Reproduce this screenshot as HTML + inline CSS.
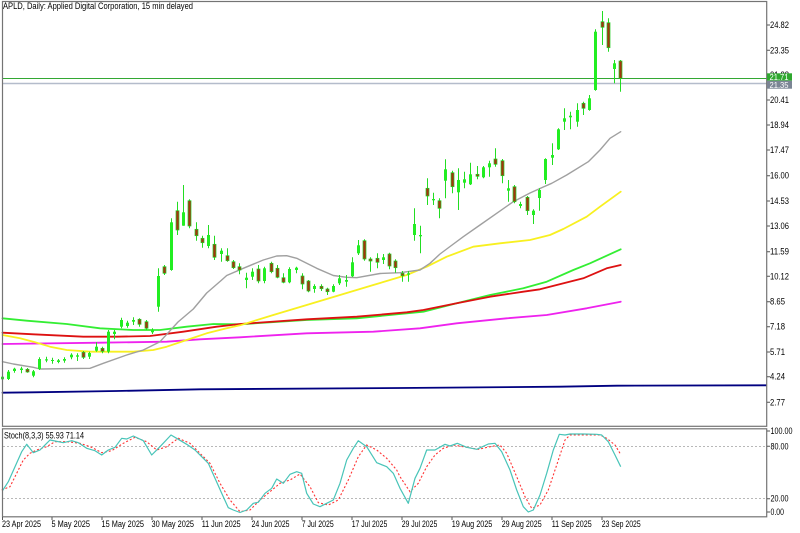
<!DOCTYPE html>
<html><head><meta charset="utf-8"><style>
html,body{margin:0;padding:0;background:#fff;}
svg{display:block;}
text{font-family:"Liberation Sans",sans-serif;fill:#000;}
</style></head><body>
<svg width="800" height="533" viewBox="0 0 800 533" xmlns="http://www.w3.org/2000/svg">
<rect x="0" y="0" width="800" height="533" fill="#fff"/>

<!-- title -->
<text x="3" y="9" font-size="9" textLength="190" lengthAdjust="spacingAndGlyphs">APLD, Daily:  Applied Digital Corporation, 15 min delayed</text>

<!-- moving averages -->
<g fill="none" stroke-linejoin="round" stroke-linecap="round">
<polyline stroke="#000080" stroke-width="1.8" points="2.5,392.7 33.3,392.3 116.7,391 200,389.3 400,388 560,386.7 617,385.7 766,385.3"/>
<polyline stroke="#ee22ee" stroke-width="1.8" points="2.5,344 100,342.7 166.7,341.7 200,339.3 240,337.3 306.7,333.3 373.3,331.7 420,328.3 456.7,323.3 506.7,318.3 546.7,315 586.7,308.3 620.7,301.7"/>
<polyline stroke="#33ee33" stroke-width="1.8" points="2.5,318.3 26.7,320.7 66.7,324 100,328.3 133.3,330 160,330 186.7,326.7 213.3,324 240,324.3 306.7,320 356.7,318.3 390,315 423.3,311.7 456.7,303.3 490,295 523.3,288.3 546.7,281.7 573.3,270 590,263.3 620.7,249.3"/>
<polyline stroke="#dd1111" stroke-width="1.8" points="2.5,332.7 33.3,334.3 83.3,336.7 116.7,336.7 150,336 183.3,331.7 216.7,326.7 240,324 306.7,319.3 356.7,316.7 406.7,312.3 423.3,310 456.7,303.3 490,296.7 523.3,291.7 540,289.3 556.7,285 583.3,278.3 606.7,268.3 620.7,265"/>
<polyline stroke="#f8f020" stroke-width="1.8" points="2.5,335 20,338.3 33.3,341.7 50,346.7 66.7,350 90,351.7 133.3,351.7 153.3,350 166.7,346.7 186.7,340 206.7,333.3 226.7,328.3 240,325.3 273.3,315 306.7,305 340,295 373.3,285 406.7,275 426.7,266.7 446.7,256.7 473.3,246.7 500,243.3 530,240 550,235 563.3,229 586.7,216.7 600,206.7 620.7,191.7"/>
<polyline stroke="#a0a0a0" stroke-width="1.4" points="2.5,361.7 13.3,364 33.3,367.3 40,369 90,368.3 103.3,363.3 126.7,355 143.3,350 160,341.7 178,322 193.3,309 206.7,293 221.7,280 226.7,275.5 243.3,268.3 263.3,260 276.7,256 286.7,255.7 296.7,258.3 306.7,263.3 316.7,268.3 333.3,275.5 346.7,277.3 356.7,277.7 380,273.5 400,272.7 420,270 430,263.3 440,254 446.7,249 463.3,236.7 480,225 496.7,213.3 513.3,201.7 530,193 543.3,187 551.7,183.3 566.7,175 588.3,161.7 600,150 610,138.3 620.7,131.7"/>
</g>

<!-- current price lines -->
<line x1="2" y1="78.5" x2="767" y2="78.5" stroke="#33a833" stroke-width="1"/>
<line x1="2" y1="83.5" x2="767" y2="83.5" stroke="#b4bccb" stroke-width="1.5"/>

<!-- candle wicks -->
<path fill="none" stroke="#22dd22" stroke-width="1" d="M2.5 375V381M8.5 370V380M14.5 367.7V372.7M21.5 366.7V373.3M27.5 368V372.7M33.5 370V377.3M39.5 357.3V370M46.5 356.7V362.3M52.5 357.7V363.7M58.5 359V363.3M64.5 357.3V362.7M71.5 353.3V359.3M77.5 353.3V361M83.5 351V359M89.5 351.7V359M96.5 342.3V351.7M102.5 346.7V353.3M108.5 330V353.3M114.5 330V339.3M121.5 317.7V328.3M127.5 320.7V327.7M133.5 317.3V325M139.5 318.3V326.7M146.5 320V330M152.5 328.3V334M158.5 268.3V311.7M164.5 265V275M171.5 218.3V270.7M177.5 201.7V235M183.5 185V225.7M189.5 199.3V228.3M196.5 222.3V240.7M202.5 235.7V247.7M208.5 225V248.3M214.5 235.7V260M221.5 248.3V261.7M227.5 248.3V261.7M233.5 260V269M239.5 263.3V274.3M246.5 272.7V288.3M252.5 268.3V280M258.5 265V283.3M264.5 266.7V283.3M271.5 261.7V273.3M277.5 265V278.3M283.5 273.3V283.3M289.5 267.3V283.3M296.5 266.7V273.3M302.5 273.3V289.3M308.5 280V292.3M314.5 284.3V292.7M321.5 284.3V291M327.5 287.7V295M333.5 284.3V292.3M339.5 275V285M346.5 275V286.7M352.5 257.3V277M358.5 240V255M364.5 239.3V260.7M370.5 257.3V271.7M377.5 253.3V268.3M383.5 254V264M389.5 252.7V269.3M395.5 259.3V272.7M402.5 271V281.7M408.5 271V281.7M414.5 208.3V240.7M420.5 225.7V253.3M427.5 178.3V205M433.5 192.7V205M439.5 198.3V218.3M445.5 159.3V198.3M452.5 170.7V193.3M458.5 168.3V210M464.5 171.7V188.3M470.5 162.7V185M477.5 166V179.3M483.5 166V178.3M489.5 160.7V176.7M495.5 148.3V166.7M502.5 159V183.3M508.5 180V201.7M514.5 185V203.3M520.5 201.7V208.3M527.5 196V215M533.5 209.3V224M539.5 188.3V210.7M545.5 158.3V184M552.5 143.3V165M558.5 128.3V150M564.5 108.3V130M570.5 111.7V129.3M577.5 103.3V126.7M583.5 101.7V115M589.5 95V110.7M595.5 29.3V90.7M602.5 11V45M608.5 18.3V51.7M614.5 60V83.3M620.5 60V91.7"/>

<!-- bull bodies -->
<g fill="#22ee22">
<rect x="1" y="376.7" width="3" height="2.6"/>
<rect x="7" y="371.7" width="3" height="7.3"/>
<rect x="13" y="368.7" width="3" height="2.3"/>
<rect x="20" y="368.5" width="3" height="1.5"/>
<rect x="32" y="371.3" width="3" height="4.4"/>
<rect x="38" y="359" width="3" height="10"/>
<rect x="45" y="359.3" width="3" height="1.2"/>
<rect x="51" y="360" width="3" height="1"/>
<rect x="57" y="360.3" width="3" height="1.7"/>
<rect x="63" y="359" width="3" height="1.7"/>
<rect x="70" y="354.7" width="3" height="2.6"/>
<rect x="76" y="355.3" width="3" height="1.4"/>
<rect x="88" y="353" width="3" height="3.7"/>
<rect x="95" y="346.7" width="3" height="4"/>
<rect x="107" y="331.7" width="3" height="20"/>
<rect x="113" y="331.7" width="3" height="2.3"/>
<rect x="120" y="320" width="3" height="6.7"/>
<rect x="126" y="322.7" width="3" height="3.3"/>
<rect x="132" y="320" width="3" height="1.7"/>
<rect x="151" y="330" width="3" height="2.3"/>
<rect x="157" y="276" width="3" height="30.7"/>
<rect x="170" y="222.3" width="3" height="47.7"/>
<rect x="182" y="212.3" width="3" height="13.4"/>
<rect x="207" y="235" width="3" height="11"/>
<rect x="220" y="250.7" width="3" height="3.3"/>
<rect x="245" y="277.7" width="3" height="2.3"/>
<rect x="251" y="271.7" width="3" height="5"/>
<rect x="263" y="268.3" width="3" height="12.7"/>
<rect x="288" y="269" width="3" height="13.3"/>
<rect x="295" y="267.7" width="3" height="2.3"/>
<rect x="313" y="286" width="3" height="3"/>
<rect x="332" y="286" width="3" height="5.7"/>
<rect x="338" y="278.3" width="3" height="5"/>
<rect x="345" y="280" width="3" height="1.7"/>
<rect x="351" y="262.3" width="3" height="14"/>
<rect x="357" y="245.3" width="3" height="8"/>
<rect x="382" y="257.3" width="3" height="2.7"/>
<rect x="407" y="273.3" width="3" height="1.4"/>
<rect x="413" y="224" width="3" height="11"/>
<rect x="419" y="235" width="3" height="1.3"/>
<rect x="432" y="199" width="3" height="1.3"/>
<rect x="444" y="169.3" width="3" height="11.4"/>
<rect x="457" y="180" width="3" height="12.3"/>
<rect x="463" y="179.3" width="3" height="3.4"/>
<rect x="469" y="174.3" width="3" height="10"/>
<rect x="482" y="167.3" width="3" height="10"/>
<rect x="488" y="163.3" width="3" height="4"/>
<rect x="507" y="188.3" width="3" height="2.4"/>
<rect x="519" y="204" width="3" height="2"/>
<rect x="532" y="210.7" width="3" height="4.3"/>
<rect x="538" y="190" width="3" height="8"/>
<rect x="544" y="159" width="3" height="21"/>
<rect x="551" y="155" width="3" height="2.7"/>
<rect x="557" y="129.3" width="3" height="20"/>
<rect x="563" y="118.3" width="3" height="3.4"/>
<rect x="569" y="115.7" width="3" height="1.6"/>
<rect x="576" y="110" width="3" height="11.7"/>
<rect x="588" y="98.3" width="3" height="11.7"/>
<rect x="594" y="31.7" width="3" height="58.3"/>
<rect x="613" y="63.3" width="3" height="5.7"/>
</g>

<!-- bear bodies -->
<g fill="#a33510" stroke="#22cc22" stroke-width="0.7">
<rect x="26" y="369.3" width="3" height="2.7"/>
<rect x="82" y="352.3" width="3" height="5"/>
<rect x="101" y="348.3" width="3" height="3"/>
<rect x="138" y="319.3" width="3" height="5"/>
<rect x="145" y="321.7" width="3" height="6.6"/>
<rect x="163" y="266.7" width="3" height="6.6"/>
<rect x="176" y="210.7" width="3" height="19.3"/>
<rect x="188" y="200.7" width="3" height="25.3"/>
<rect x="195" y="229.3" width="3" height="6.4"/>
<rect x="201" y="238.3" width="3" height="4.4"/>
<rect x="213" y="244.3" width="3" height="13"/>
<rect x="226" y="255.7" width="3" height="5"/>
<rect x="232" y="261.7" width="3" height="6"/>
<rect x="238" y="266.7" width="3" height="3.3"/>
<rect x="257" y="269" width="3" height="12"/>
<rect x="270" y="263.3" width="3" height="8.4"/>
<rect x="276" y="268.3" width="3" height="9"/>
<rect x="282" y="277.7" width="3" height="4.6"/>
<rect x="301" y="276" width="3" height="8"/>
<rect x="307" y="281" width="3" height="10"/>
<rect x="320" y="286.3" width="3" height="2.4"/>
<rect x="326" y="289" width="3" height="2.7"/>
<rect x="363" y="240.7" width="3" height="18.3"/>
<rect x="369" y="259" width="3" height="2"/>
<rect x="376" y="258.3" width="3" height="4"/>
<rect x="388" y="254" width="3" height="12"/>
<rect x="394" y="261" width="3" height="6.7"/>
<rect x="401" y="273.3" width="3" height="2.4"/>
<rect x="426" y="188.3" width="3" height="7.7"/>
<rect x="438" y="200.7" width="3" height="7.6"/>
<rect x="451" y="172.7" width="3" height="14"/>
<rect x="476" y="174.3" width="3" height="2"/>
<rect x="494" y="159" width="3" height="5.3"/>
<rect x="501" y="160.7" width="3" height="15"/>
<rect x="513" y="186.7" width="3" height="15"/>
<rect x="526" y="197.3" width="3" height="13.4"/>
<rect x="582" y="103.3" width="3" height="5"/>
<rect x="601" y="21.7" width="3" height="5.6"/>
<rect x="607" y="22.7" width="3" height="25"/>
<rect x="619" y="61" width="3" height="17.3"/>
</g>

<!-- stochastic levels -->
<g stroke="#b8b8b8" stroke-width="1" stroke-dasharray="2,2">
<line x1="3" y1="446.5" x2="766" y2="446.5"/>
<line x1="3" y1="498.5" x2="766" y2="498.5"/>
</g>
<polyline fill="none" stroke="#ff3333" stroke-width="1.1" stroke-dasharray="2,2" points="1.7,490 10,486.7 16.7,473.3 23.3,460 30,453.3 36.7,450 46.7,446.7 55,441.7 66.7,441.7 80,443.3 91.7,447.3 101.7,452.7 111.7,450.7 123.3,443.3 135,437.3 146.7,441.7 156.7,450 166.7,446.7 178.3,438.3 190,443.3 200,453.3 210,463.3 220,483.3 230,500 240,511.7 250,510 260,500 270,491.7 280,483.3 290,480 300,474 310,486.7 318.3,502.7 328.3,505 338.3,500 348.3,480 358.3,456.7 366.7,445 376.7,450 386.7,458.3 396.7,470 400,476.7 410,491.7 418.3,483.3 426.7,466.7 435,455 443.3,448.3 453.3,445 466.7,447.3 478.3,449.3 490,446.7 500,445 506.7,453.3 516.7,476.7 525,496.7 531.7,508.3 540,505 548.3,490 556.7,465 565,440 570,435 600,435 606.7,438.3 615,445 620,453.3"/>
<polyline fill="none" stroke="#48c4b8" stroke-width="1.2" stroke-linejoin="round" points="2.5,490.7 8.3,481.7 15,466.7 21.7,451.7 26.7,444.3 33.3,452.7 40,450 46.7,443.3 50,440 55,441 63.3,442.7 71.7,440.7 78.3,442.7 86.7,448.3 95,450.7 101.7,455 108.3,450 115,447.3 121.7,438.3 126.7,439 133.3,436 143.3,440.7 151.7,455 160,446.7 171,435 178.3,439.3 186.7,444.3 195,450 201.7,456.7 208.3,463.3 215,478.3 221.7,493.3 228.3,507.7 233.3,510 240,512.5 246.7,510 253.3,503.3 258.3,502.3 265,493.3 271.7,488.3 276.7,479 283.3,483.3 290,474.3 296.7,471.7 301.7,473.3 306.7,493.3 313.3,504 320,506.7 326.7,503.3 333.3,500 340,483.3 346.7,460 353.3,448.3 358.3,440.7 366.7,446.7 376.7,462.7 386.7,466.7 393.3,473.3 400,488.3 408.3,503.3 415,478.3 420,468.3 426.7,450 435,450 445,444.3 450,446 457.3,443.3 466.7,447.3 476.7,449.3 488.3,444 495,443.3 501.7,451.7 510,470 516.7,490 523.3,506.7 528.3,512 533.3,510 540,495 546.7,473.3 553.3,450 559.3,434.3 565,435 570,434 583.3,434 596.7,434.3 601.7,435 608.3,441.7 615,455 620.7,466.7"/>
<text x="4" y="438.5" font-size="9" textLength="80" lengthAdjust="spacingAndGlyphs">Stoch(8,3,3) 55.93 71.14</text>

<!-- panel frames -->
<g fill="none" stroke="#747474" stroke-width="1.2">
<rect x="2.5" y="1.5" width="764.2" height="424.8"/>
<rect x="2.5" y="428.8" width="764.2" height="88"/>
</g>

<!-- price axis -->
<g stroke="#555" stroke-width="1">
<path d="M767 25h3M767 50.3h3M767 100h3M767 125h3M767 150h3M767 175.7h3M767 201h3M767 226h3M767 251.7h3M767 276.3h3M767 301.7h3M767 326.7h3M767 352h3M767 376.7h3M767 402.3h3M767 431h3M767 446.3h3M767 498.7h3M767 512h3"/>
<path d="M2.5 517v3M52 517v3M102 517v3M152 517v3M202 517v3M252 517v3M302 517v3M352 517v3M402 517v3M452 517v3M502 517v3M552 517v3M602 517v3"/>
</g>
<g font-size="9">
<text x="770" y="28" textLength="19" lengthAdjust="spacingAndGlyphs">24.82</text>
<text x="770" y="53.3" textLength="19" lengthAdjust="spacingAndGlyphs">23.35</text>
<text x="770" y="78" textLength="19" lengthAdjust="spacingAndGlyphs">21.88</text>
<text x="770" y="103" textLength="19" lengthAdjust="spacingAndGlyphs">20.41</text>
<text x="770" y="128" textLength="19" lengthAdjust="spacingAndGlyphs">18.94</text>
<text x="770" y="153" textLength="19" lengthAdjust="spacingAndGlyphs">17.47</text>
<text x="770" y="178.7" textLength="19" lengthAdjust="spacingAndGlyphs">16.00</text>
<text x="770" y="204" textLength="19" lengthAdjust="spacingAndGlyphs">14.53</text>
<text x="770" y="229" textLength="19" lengthAdjust="spacingAndGlyphs">13.06</text>
<text x="770" y="254.7" textLength="19" lengthAdjust="spacingAndGlyphs">11.59</text>
<text x="770" y="279.3" textLength="19" lengthAdjust="spacingAndGlyphs">10.12</text>
<text x="770" y="304.7" textLength="15" lengthAdjust="spacingAndGlyphs">8.65</text>
<text x="770" y="329.7" textLength="15" lengthAdjust="spacingAndGlyphs">7.18</text>
<text x="770" y="355" textLength="15" lengthAdjust="spacingAndGlyphs">5.71</text>
<text x="770" y="379.7" textLength="15" lengthAdjust="spacingAndGlyphs">4.24</text>
<text x="770" y="405.3" textLength="15" lengthAdjust="spacingAndGlyphs">2.77</text>
<text x="770.5" y="434" textLength="22" lengthAdjust="spacingAndGlyphs">100.00</text>
<text x="770.5" y="449.3" textLength="18" lengthAdjust="spacingAndGlyphs">80.00</text>
<text x="770.5" y="501.7" textLength="18" lengthAdjust="spacingAndGlyphs">20.00</text>
<text x="770.5" y="515" textLength="13.5" lengthAdjust="spacingAndGlyphs">0.00</text>
</g>

<!-- current price labels -->
<rect x="767" y="73.3" width="25" height="7.4" fill="#2fa82f"/>
<text x="769.5" y="80" font-size="8" style="fill:#fff" textLength="19" lengthAdjust="spacingAndGlyphs">21.71</text>
<rect x="767" y="80.7" width="25" height="8" fill="#7b8594"/>
<text x="769.5" y="88" font-size="8" style="fill:#fff" textLength="19" lengthAdjust="spacingAndGlyphs">21.35</text>

<!-- date axis -->
<g font-size="9">
<text x="2" y="527" textLength="39" lengthAdjust="spacingAndGlyphs">23 Apr 2025</text>
<text x="51.5" y="527" textLength="38.5" lengthAdjust="spacingAndGlyphs">5 May 2025</text>
<text x="101.5" y="527" textLength="42.5" lengthAdjust="spacingAndGlyphs">15 May 2025</text>
<text x="151.5" y="527" textLength="42.5" lengthAdjust="spacingAndGlyphs">30 May 2025</text>
<text x="201.7" y="527" textLength="39" lengthAdjust="spacingAndGlyphs">11 Jun 2025</text>
<text x="251.5" y="527" textLength="38" lengthAdjust="spacingAndGlyphs">24 Jun 2025</text>
<text x="301.7" y="527" textLength="32" lengthAdjust="spacingAndGlyphs">7 Jul 2025</text>
<text x="351.7" y="527" textLength="35.6" lengthAdjust="spacingAndGlyphs">17 Jul 2025</text>
<text x="401.7" y="527" textLength="35.6" lengthAdjust="spacingAndGlyphs">29 Jul 2025</text>
<text x="451.7" y="527" textLength="40.6" lengthAdjust="spacingAndGlyphs">19 Aug 2025</text>
<text x="501.7" y="527" textLength="40" lengthAdjust="spacingAndGlyphs">29 Aug 2025</text>
<text x="551.7" y="527" textLength="40" lengthAdjust="spacingAndGlyphs">11 Sep 2025</text>
<text x="601.7" y="527" textLength="39" lengthAdjust="spacingAndGlyphs">23 Sep 2025</text>
</g>
</svg>
</body></html>
